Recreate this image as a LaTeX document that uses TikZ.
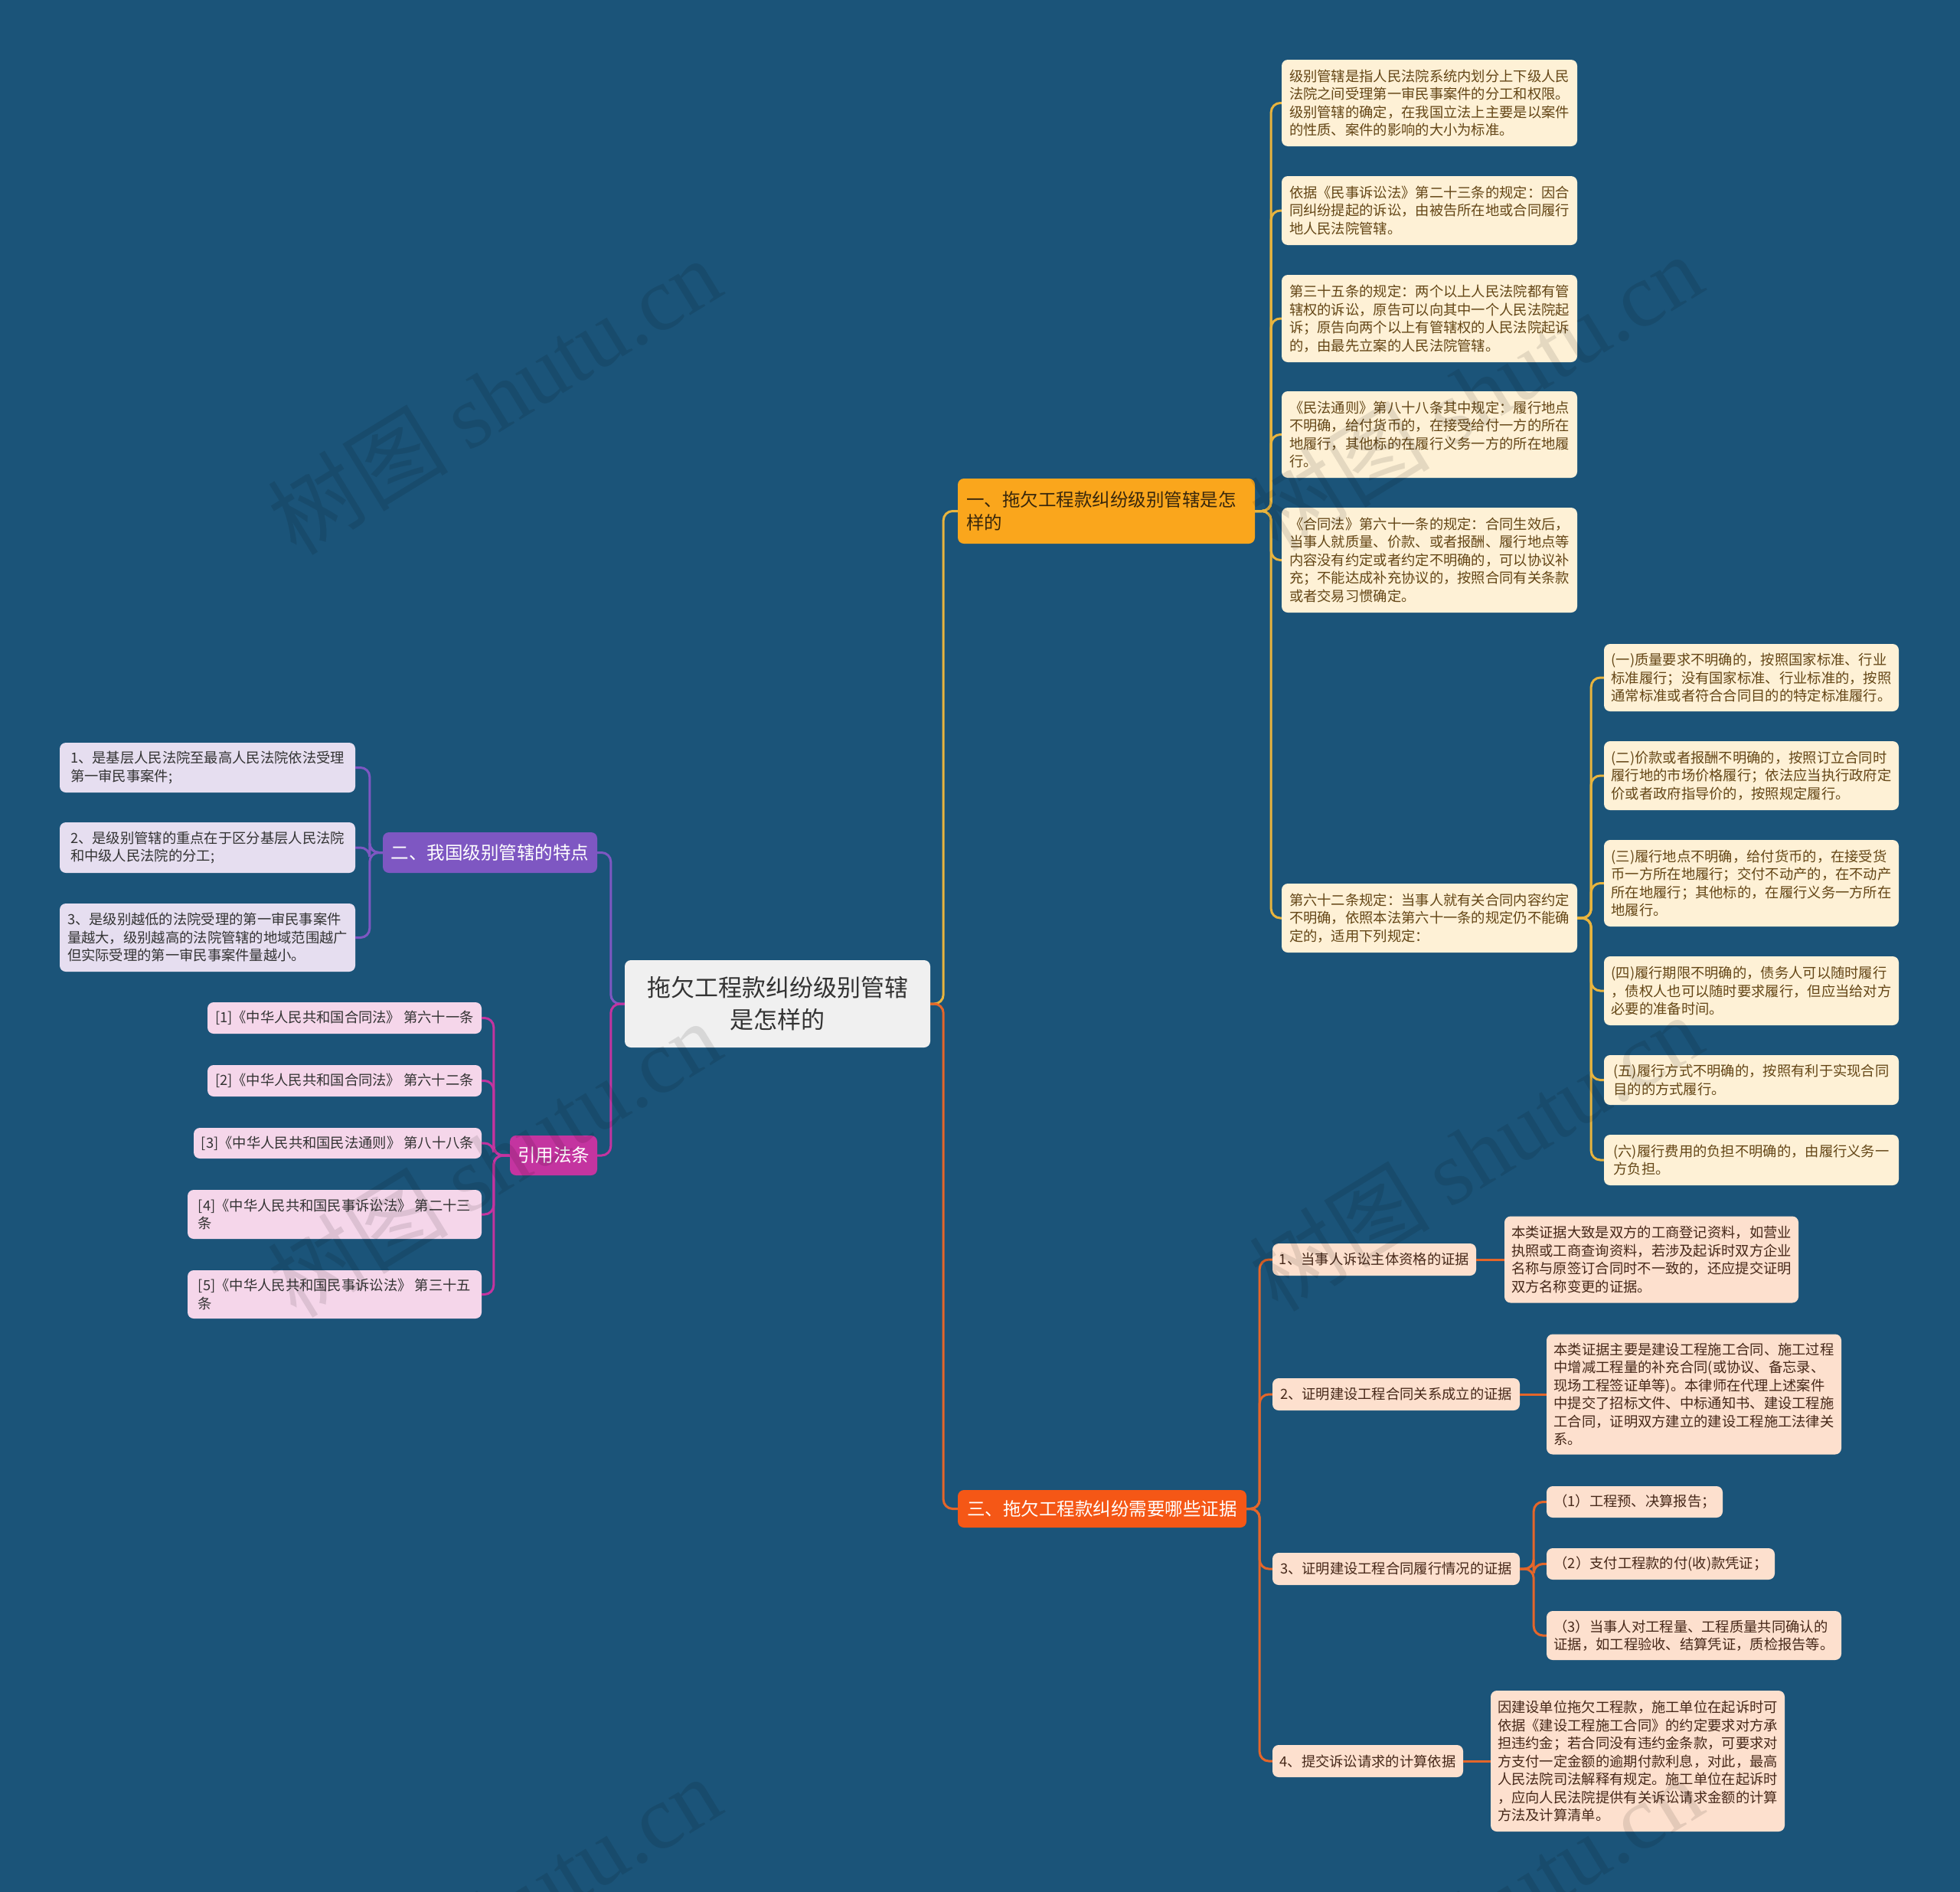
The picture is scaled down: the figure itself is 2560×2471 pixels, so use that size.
\documentclass[tikz,border=0pt]{standalone}
\usepackage{fontspec}
\setmainfont{Noto Sans CJK SC}
\newfontfamily\wmserif{Liberation Serif}
\definecolor{bg}{RGB}{27,84,121}
\definecolor{gold}{RGB}{232,180,62}
\definecolor{b1fill}{RGB}{250,166,28}
\definecolor{b1text}{RGB}{55,38,12}
\definecolor{yfill}{RGB}{254,241,214}
\definecolor{ytext}{RGB}{100,70,22}
\definecolor{ored}{RGB}{245,87,22}
\definecolor{oline}{RGB}{228,102,42}
\definecolor{efill}{RGB}{253,224,206}
\definecolor{etext}{RGB}{70,40,25}
\definecolor{purp}{RGB}{126,87,194}
\definecolor{pfill}{RGB}{230,222,240}
\definecolor{mag}{RGB}{196,52,160}
\definecolor{mfill}{RGB}{245,214,234}
\definecolor{dtext}{RGB}{51,51,51}
\definecolor{cfill}{RGB}{240,240,240}
\newcommand{\smfs}{\fontsize{18.3pt}{23.5pt}\selectfont}
\newcommand{\midfs}{\fontsize{23.5pt}{30pt}\selectfont}
\newcommand{\bigfs}{\fontsize{31pt}{42pt}\selectfont}
\newcommand{\wmfs}{\fontsize{118pt}{118pt}\selectfont}
\begin{document}
\begin{tikzpicture}[x=1pt,y=-1pt,
  base/.style={rounded corners=8pt, inner sep=0pt, align=left},
  sz/.style 2 args={minimum width=#1pt, minimum height=#2pt},
  cnode/.style={base, fill=cfill, text=dtext, font=\bigfs, align=center},
  b1node/.style={base, fill=b1fill, text=b1text, font=\midfs},
  b3node/.style={base, fill=ored, text=white, font=\midfs},
  b2node/.style={base, fill=purp, text=white, font=\midfs},
  b4node/.style={base, fill=mag, text=white, font=\midfs},
  ynode/.style={base, fill=yfill, text=ytext, font=\smfs},
  enode/.style={base, fill=efill, text=etext, font=\smfs},
  pnode/.style={base, fill=pfill, text=dtext, font=\smfs},
  mnode/.style={base, fill=mfill, text=dtext, font=\smfs},
  link/.style={line width=3pt, rounded corners=12pt},
  wm/.style={rotate=31.5, font=\wmfs, text=black, text opacity=0.1}
]
\useasboundingbox (0,0) rectangle (2560,2471);
\fill[bg] (0,0) rectangle (2560,2471);

% centre
\node[cnode, sz={399}{114}] (c) at (1015.5,1311) {拖欠工程款纠纷级别管辖\\是怎样的};

% main branches
\node[b1node, sz={388}{85}, text width=366pt, inner xsep=11pt] (b1) at (1445,667.5) {一、拖欠工程款纠纷级别管辖是怎\\样的};
\node[b3node, sz={377}{49}] (b3) at (1439.5,1970.5) {三、拖欠工程款纠纷需要哪些证据};
\node[b2node, sz={280}{53}] (b2) at (640,1113.5) {二、我国级别管辖的特点};
\node[b4node, sz={114}{52}] (b4) at (723,1509) {引用法条};

% branch 1 children
\node[ynode, sz={386}{113}] (y1) at (1867,134.5) {级别管辖是指人民法院系统内划分上下级人民\\法院之间受理第一审民事案件的分工和权限。\\级别管辖的确定，在我国立法上主要是以案件\\的性质、案件的影响的大小为标准。};
\node[ynode, sz={386}{90}] (y2) at (1867,275) {依据《民事诉讼法》第二十三条的规定：因合\\同纠纷提起的诉讼，由被告所在地或合同履行\\地人民法院管辖。};
\node[ynode, sz={386}{114}] (y3) at (1867,416) {第三十五条的规定：两个以上人民法院都有管\\辖权的诉讼，原告可以向其中一个人民法院起\\诉；原告向两个以上有管辖权的人民法院起诉\\的，由最先立案的人民法院管辖。};
\node[ynode, sz={386}{113}] (y4) at (1867,567.5) {《民法通则》第八十八条其中规定：履行地点\\不明确，给付货币的，在接受给付一方的所在\\地履行，其他标的在履行义务一方的所在地履\\行。};
\node[ynode, sz={386}{137}] (y5) at (1867,731.5) {《合同法》第六十一条的规定：合同生效后，\\当事人就质量、价款、或者报酬、履行地点等\\内容没有约定或者约定不明确的，可以协议补\\充；不能达成补充协议的，按照合同有关条款\\或者交易习惯确定。};
\node[ynode, sz={386}{90}] (y6) at (1867,1199) {第六十二条规定：当事人就有关合同内容约定\\不明确，依照本法第六十一条的规定仍不能确\\定的，适用下列规定：};

% y6 children
\node[ynode, sz={385}{88}] (s1) at (2287.5,885) {(一)质量要求不明确的，按照国家标准、行业\\标准履行；没有国家标准、行业标准的，按照\\通常标准或者符合合同目的的特定标准履行。};
\node[ynode, sz={385}{90}] (s2) at (2287.5,1013) {(二)价款或者报酬不明确的，按照订立合同时\\履行地的市场价格履行；依法应当执行政府定\\价或者政府指导价的，按照规定履行。};
\node[ynode, sz={385}{113}] (s3) at (2287.5,1153.5) {(三)履行地点不明确，给付货币的，在接受货\\币一方所在地履行；交付不动产的，在不动产\\所在地履行；其他标的，在履行义务一方所在\\地履行。};
\node[ynode, sz={385}{90}] (s4) at (2287.5,1294) {(四)履行期限不明确的，债务人可以随时履行\\，债权人也可以随时要求履行，但应当给对方\\必要的准备时间。};
\node[ynode, sz={385}{65}] (s5) at (2287.5,1410.5) {(五)履行方式不明确的，按照有利于实现合同\\目的的方式履行。};
\node[ynode, sz={385}{66}] (s6) at (2287.5,1515) {(六)履行费用的负担不明确的，由履行义务一\\方负担。};

% branch 2 children
\node[pnode, sz={386}{65}] (p1) at (271,1002.5) {1、是基层人民法院至最高人民法院依法受理\\第一审民事案件;};
\node[pnode, sz={386}{66}] (p2) at (271,1107) {2、是级别管辖的重点在于区分基层人民法院\\和中级人民法院的分工;};
\node[pnode, sz={386}{89}] (p3) at (271,1224.5) {3、是级别越低的法院受理的第一审民事案件\\量越大，级别越高的法院管辖的地域范围越广\\但实际受理的第一审民事案件量越小。};

% references
\node[mnode, sz={358}{41}] (m1) at (450,1329.5) {[1]《中华人民共和国合同法》 第六十一条};
\node[mnode, sz={358}{41}] (m2) at (450,1411.5) {[2]《中华人民共和国合同法》 第六十二条};
\node[mnode, sz={376}{40}] (m3) at (441,1493) {[3]《中华人民共和国民法通则》 第八十八条};
\node[mnode, sz={384}{64}] (m4) at (437,1586) {[4]《中华人民共和国民事诉讼法》 第二十三\\条};
\node[mnode, sz={384}{63}] (m5) at (437,1690.5) {[5]《中华人民共和国民事诉讼法》 第三十五\\条};

% branch 3 children
\node[enode, sz={266}{42}] (e1) at (1795,1645) {1、当事人诉讼主体资格的证据};
\node[enode, sz={323}{42}] (e2) at (1823.5,1821) {2、证明建设工程合同关系成立的证据};
\node[enode, sz={323}{42}] (e3) at (1823.5,2049) {3、证明建设工程合同履行情况的证据};
\node[enode, sz={249}{42}] (e4) at (1786.5,2300) {4、提交诉讼请求的计算依据};

\node[enode, sz={384}{113}] (f1) at (2157,1645) {本类证据大致是双方的工商登记资料，如营业\\执照或工商查询资料，若涉及起诉时双方企业\\名称与原签订合同时不一致的，还应提交证明\\双方名称变更的证据。};
\node[enode, sz={385}{157}] (f2) at (2212.5,1821) {本类证据主要是建设工程施工合同、施工过程\\中增减工程量的补充合同(或协议、备忘录、\\现场工程签证单等)。本律师在代理上述案件\\中提交了招标文件、中标通知书、建设工程施\\工合同，证明双方建立的建设工程施工法律关\\系。};
\node[enode, sz={230}{41}] (f3a) at (2135,1961.5) {（1）工程预、决算报告；};
\node[enode, sz={298}{41}] (f3b) at (2169,2042.5) {（2）支付工程款的付(收)款凭证；};
\node[enode, sz={385}{64}] (f3c) at (2212.5,2136) {（3）当事人对工程量、工程质量共同确认的\\证据，如工程验收、结算凭证，质检报告等。};
\node[enode, sz={384}{184}] (f4) at (2139,2300) {因建设单位拖欠工程款，施工单位在起诉时可\\依据《建设工程施工合同》的约定要求对方承\\担违约金；若合同没有违约金条款，可要求对\\方支付一定金额的逾期付款利息，对此，最高\\人民法院司法解释有规定。施工单位在起诉时\\，应向人民法院提供有关诉讼请求金额的计算\\方法及计算清单。};

% connectors
\draw[link, gold] (c.east) -- ++(17,0) |- (b1.west);
\draw[link, oline] (c.east) -- ++(17,0) |- (b3.west);
\draw[link, purp] (c.west) -- ++(-18,0) |- (b2.east);
\draw[link, mag] (c.west) -- ++(-18,0) |- (b4.east);

\foreach \n in {y1,y2,y3,y4,y5,y6}
  \draw[link, gold] (b1.east) -- ++(21,0) |- (\n.west);
\foreach \n in {s1,s2,s3,s4,s5,s6}
  \draw[link, gold] (y6.east) -- ++(18,0) |- (\n.west);
\foreach \n in {p1,p2,p3}
  \draw[link, purp] (b2.west) -- ++(-17,0) |- (\n.east);
\foreach \n in {m1,m2,m3,m4,m5}
  \draw[link, mag] (b4.west) -- ++(-21,0) |- (\n.east);
\foreach \n in {e1,e2,e3,e4}
  \draw[link, oline] (b3.east) -- ++(17,0) |- (\n.west);
\draw[link, oline] (e1.east) -- (f1.west);
\draw[link, oline] (e2.east) -- (f2.west);
\draw[link, oline] (e4.east) -- (f4.west);
\foreach \n in {f3a,f3b,f3c}
  \draw[link, oline] (e3.east) -- ++(18,0) |- (\n.west);

% watermarks
\node[wm] (w1) at (645,517) {树图 {\wmserif shutu.cn}};
\node[wm] (w2) at (1927,512) {树图 {\wmserif shutu.cn}};
\node[wm] (w3) at (645,1513) {树图 {\wmserif shutu.cn}};
\node[wm] (w4) at (1927,1505) {树图 {\wmserif shutu.cn}};
\node[wm] (w5) at (645,2500) {树图 {\wmserif shutu.cn}};
\node[wm] (w6) at (1927,2500) {树图 {\wmserif shutu.cn}};
\end{tikzpicture}
\end{document}
